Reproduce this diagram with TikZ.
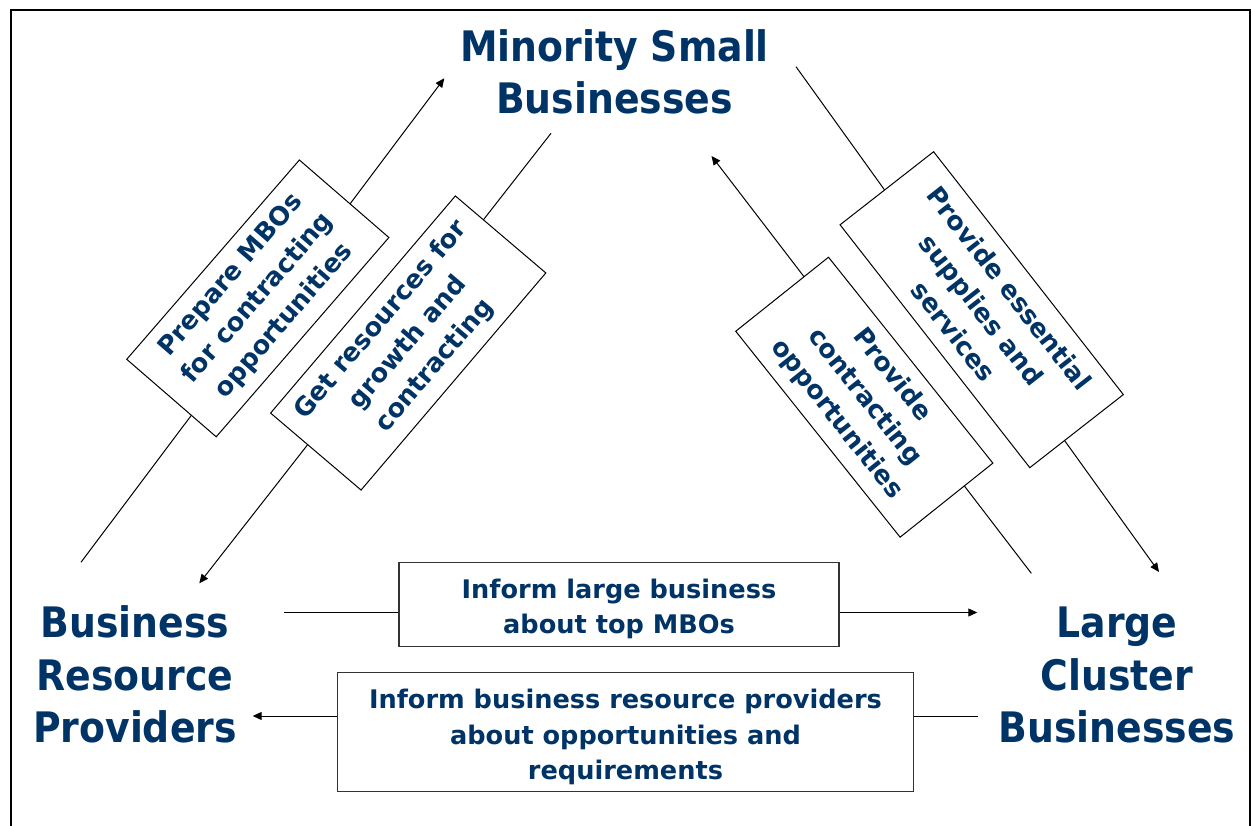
\documentclass[tikz,border=0pt]{standalone}
\usepackage{fontspec}
\setmainfont{DejaVu Sans}
\newfontfamily\bigf{DejaVu Sans Condensed}
\usetikzlibrary{arrows.meta}
\definecolor{navy}{RGB}{0,51,102}
\begin{document}
\begin{tikzpicture}[x=1pt,y=-1pt,
  big/.style={font=\bigf\bfseries\fontsize{42}{52.4}\selectfont, text=navy, align=center, inner sep=0pt},
  small/.style={font=\bfseries\fontsize{25.6}{35.3}\selectfont, text=navy, align=center, inner sep=0pt},
  rbox/.style={small, draw=black, line width=1pt, fill=white},
  hbox/.style={small, draw=black!80, line width=1.4pt, fill=white},
  conn/.style={line width=1pt, draw=black},
  tip/.style={-{Triangle[length=9pt,width=8pt]}},
  frame/.style={line width=2pt}]

\useasboundingbox (0,0) rectangle (1251,826);
\draw[frame] (11,826) -- (11,10.5) -- (1249.5,10.5) -- (1249.5,826);

% main labels
\node[big] (msb) at (614.5,72.1) {Minority Small\\Businesses};
\node[big] (brp) at (135,674.4) {Business\\Resource\\Providers};
\node[big] (lcb) at (1117,675) {Large\\Cluster\\Businesses};

% connector end points
\coordinate (a1s) at (81,562.3);
\coordinate (a1e) at (444.3,78.3);
\coordinate (a2s) at (551,133.3);
\coordinate (a2e) at (199.3,583.3);
\coordinate (a3s) at (1031.3,573.3);
\coordinate (a3e) at (711.5,156);
\coordinate (a4s) at (796,66.7);
\coordinate (a4e) at (1159,572);
\coordinate (a5s) at (284,612.5);
\coordinate (a5e) at (977.3,612.5);
\coordinate (a6s) at (978.3,716);
\coordinate (a6e) at (252.7,716);

% connectors
\draw[conn,tip] (a1s) -- (a1e);
\draw[conn,tip] (a2s) -- (a2e);
\draw[conn,tip] (a3s) -- (a3e);
\draw[conn,tip] (a4s) -- (a4e);
\draw[conn,tip] (a5s) -- (a5e);
\draw[conn,tip] (a6s) -- (a6e);

% rotated label boxes
\node[rbox, minimum width=263.7pt, minimum height=118.4pt, rotate=49.1] (b1) at (257.8,298.4)
  {Prepare MBOs\\for contracting\\opportunities};
\node[rbox, minimum width=285.1pt, minimum height=118.8pt, rotate=49.6] (b2) at (408.2,343)
  {Get resources for\\growth and\\contracting};
\node[rbox, minimum width=263.5pt, minimum height=118.7pt, rotate=-51.4] (b3) at (864.3,397.2)
  {Provide\\contracting\\opportunities};
\node[rbox, minimum width=308.2pt, minimum height=118.7pt, rotate=-52] (b4) at (981.7,309.7)
  {Provide essential\\supplies and\\services};

% horizontal label boxes
\node[hbox, minimum width=440pt, minimum height=84pt] (b5) at (619,604.2)
  {\rule{0pt}{28.5pt}Inform large business\\about top MBOs};
\node[hbox, minimum width=576.4pt, minimum height=118.6pt] (b6) at (625.5,732)
  {\rule{0pt}{29.5pt}Inform business resource providers\\about opportunities and\\requirements};
\end{tikzpicture}
\end{document}
